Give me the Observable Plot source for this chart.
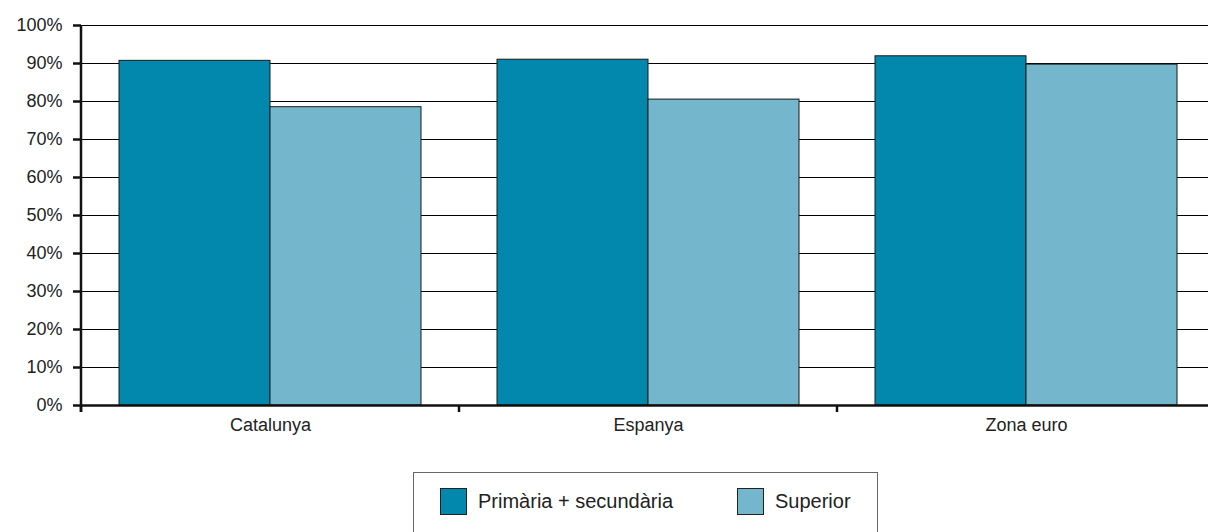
<!DOCTYPE html>
<html>
<head>
<meta charset="utf-8">
<script src="https://cdn.jsdelivr.net/npm/d3@7"></script>
<script src="https://cdn.jsdelivr.net/npm/@observablehq/plot@0.6"></script>
<style>
  html, body { margin: 0; padding: 0; background: #fff; overflow: hidden; }
  body { width: 1208px; height: 532px; font-family: "Liberation Sans", Arial, sans-serif; color: #222; }
  #wrap { position: relative; width: 1208px; height: 532px; overflow: hidden; }
  #chart { width: 1216px; }
  #chart svg { display: block; max-width: none !important; }
  #legend { position: absolute; left: 413px; top: 472px; width: 465px; height: 90px; border: 1px solid #666; box-sizing: border-box; }
  .item { position: absolute; top: 15px; display: flex; align-items: center; font-size: 20px; color: #222; }
  .sw { width: 27px; height: 27px; border: 1px solid #222; box-sizing: border-box; margin-right: 11px; }
</style>
</head>
<body>
<div id="wrap">
  <div id="chart"></div>
  <div id="legend"></div>
</div>
<script>
const categories = ["Catalunya", "Espanya", "Zona euro"];
const series = ["Primària + secundària", "Superior"];
const primariaSecundaria = [90.7, 91.0, 91.9];
const superior = [78.5, 80.5, 89.7];
const yTicks = [0, 10, 20, 30, 40, 50, 60, 70, 80, 90, 100];
const colors = ["#0288ad", "#74b6cc"];

const data = categories.flatMap((c, i) => [
  {cat: c, serie: series[0], value: primariaSecundaria[i]},
  {cat: c, serie: series[1], value: superior[i]}
]);

const plot = Plot.plot({
  width: 1216,
  height: 445,
  marginLeft: 81,
  marginRight: 1,
  marginTop: 25,
  marginBottom: 40,
  style: {fontFamily: "'Liberation Sans', Arial, sans-serif", fontSize: "18px", color: "#222", background: "#fff", maxWidth: "none"},
  fx: {domain: categories, padding: 0, label: null},
  x: {domain: series, paddingInner: 0, paddingOuter: 0.25, axis: null},
  y: {domain: [0, 100], label: null},
  color: {domain: series, range: colors},
  marks: [
    Plot.gridY(yTicks, {stroke: "#000", strokeOpacity: 1, strokeWidth: 1}),
    Plot.barY(data, {fx: "cat", x: "serie", y: "value", fill: "serie", stroke: "#1a1a1a", strokeWidth: 1}),
    Plot.ruleY([0], {stroke: "#111", strokeWidth: 2.5}),
    Plot.axisY(yTicks, {tickFormat: d => d + "%", tickSize: 8, tickPadding: 11, strokeWidth: 2.5, stroke: "#111", fontSize: 18, label: null}),
    Plot.axisFx({anchor: "bottom", tickSize: 0, tickPadding: 13, label: null, fontSize: 18})
  ]
});

document.getElementById("chart").appendChild(plot);

// axis furniture: y-axis line and category separator ticks, positioned via Plot's scales
const fx = plot.scale("fx");
const y = plot.scale("y");
const svg = d3.select(plot);
const y0 = y.apply(0);
const yTop = y.apply(100);
const g = svg.append("g").attr("stroke", "#111").attr("stroke-width", 2.5);
g.append("line").attr("x1", fx.apply(categories[0])).attr("x2", fx.apply(categories[0]))
  .attr("y1", yTop).attr("y2", y0 + 7);
categories.forEach(c => {
  const xx = fx.apply(c);
  g.append("line").attr("x1", xx).attr("x2", xx).attr("y1", y0).attr("y2", y0 + 7);
});

// legend
const legend = document.getElementById("legend");
const lefts = [26, 323];
series.forEach((s, i) => {
  const item = document.createElement("div");
  item.className = "item";
  item.style.left = lefts[i] + "px";
  const sw = document.createElement("div");
  sw.className = "sw";
  sw.style.background = colors[i];
  const t = document.createElement("span");
  t.textContent = s;
  item.appendChild(sw);
  item.appendChild(t);
  legend.appendChild(item);
});
</script>
</body>
</html>
